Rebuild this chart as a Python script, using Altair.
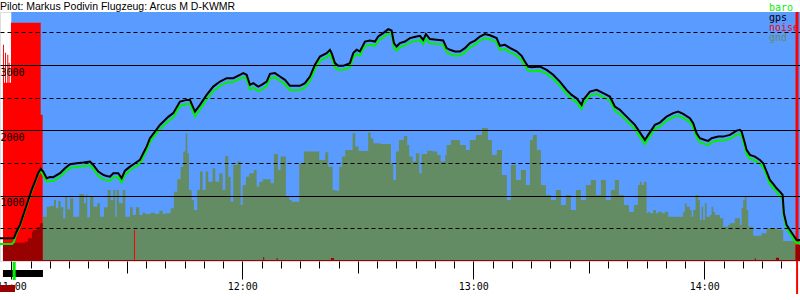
import altair as alt
import pandas as pd

# ---------------- data (time = minutes after 11:00, altitude in metres) ----------------
t_min = [
    -2.93, 0.18, 0.70, 1.22, 2.26, 3.12, 4.00, 5.30, 6.15, 7.01,
    7.64, 8.31, 9.19, 10.05, 10.91, 12.65, 13.95, 15.24, 16.98, 18.70,
    20.44, 21.30, 22.59, 23.89, 24.78, 25.63, 26.49, 27.79, 28.67, 29.53,
    30.83, 32.13, 33.42, 34.28, 35.16, 36.02, 37.32, 38.61, 40.77, 42.07,
    43.81, 45.55, 46.41, 47.71, 49.01, 50.75, 52.46, 54.20, 55.94, 57.65,
    59.39, 60.25, 61.13, 61.99, 62.85, 64.15, 65.03, 66.33, 67.19, 68.48,
    69.78, 71.08, 72.38, 74.98, 76.27, 77.57, 78.87, 80.17, 81.91, 82.77,
    83.21, 84.07, 84.92, 86.22, 87.96, 88.82, 89.70, 90.56, 91.86, 93.15,
    94.45, 95.31, 96.61, 97.91, 98.79, 99.39, 100.09, 100.95, 102.24, 103.54,
    105.28, 106.14, 107.00, 107.70, 108.74, 110.48, 112.19, 113.08, 113.93, 115.23,
    116.53, 117.83, 119.12, 120.42, 121.72, 123.02, 124.32, 126.06, 126.91, 128.21,
    129.51, 131.25, 132.55, 133.40, 134.26, 135.14, 137.30, 139.04, 140.75, 142.49,
    144.23, 145.53, 146.83, 148.13, 148.55, 150.29, 152.03, 153.74, 155.48, 156.78,
    158.08, 159.38, 160.68, 161.98, 163.27, 164.57, 165.43, 166.31, 167.17, 168.47,
    170.21, 171.92, 173.22, 174.52, 176.26, 177.12, 178.00, 178.86, 180.16, 181.02,
    181.90, 183.62, 184.91, 186.65, 188.39, 189.25, 189.69, 190.55, 190.99, 191.85,
    193.15, 194.45, 195.30, 196.19, 197.04, 197.90, 198.78, 199.64, 200.34, 200.68,
    201.38, 202.24, 203.10, 203.98, 204.86,
]
gps_alt = [
    348, 348, 352, 429, 552, 705, 858, 1088, 1215, 1349,
    1410, 1369, 1267, 1287, 1283, 1344, 1421, 1482, 1497, 1507,
    1522, 1471, 1369, 1318, 1303, 1292, 1344, 1344, 1267, 1384,
    1445, 1497, 1548, 1651, 1752, 1880, 1982, 2084, 2207, 2264,
    2441, 2467, 2467, 2288, 2391, 2544, 2671, 2748, 2800, 2800,
    2851, 2877, 2851, 2697, 2723, 2671, 2697, 2748, 2866, 2877,
    2825, 2774, 2682, 2682, 2723, 2825, 3004, 3131, 3183, 3234,
    3183, 3030, 2989, 2989, 3030, 3183, 3234, 3208, 3361, 3376,
    3361, 3438, 3490, 3551, 3530, 3336, 3284, 3336, 3361, 3413,
    3438, 3448, 3387, 3474, 3398, 3387, 3376, 3260, 3234, 3208,
    3208, 3260, 3336, 3376, 3438, 3474, 3456, 3413, 3295, 3310,
    3264, 3211, 3142, 3054, 2978, 2966, 2978, 2927, 2851, 2748,
    2621, 2544, 2494, 2391, 2467, 2595, 2621, 2570, 2518, 2365,
    2314, 2238, 2161, 2084, 1969, 1854, 1931, 2008, 2084, 2120,
    2212, 2264, 2288, 2253, 2187, 2110, 1957, 1880, 1854, 1839,
    1880, 1905, 1905, 1931, 1997, 2008, 1982, 1804, 1701, 1625,
    1598, 1548, 1497, 1369, 1241, 1180, 1114, 1062, 1012, 731,
    552, 475, 398, 322, 322,
]
baro_alt = [
    261, 261, 290, 410, 535, 690, 840, 1070, 1200, 1330,
    1380, 1310, 1215, 1225, 1225, 1290, 1365, 1425, 1440, 1450,
    1465, 1410, 1305, 1250, 1235, 1225, 1280, 1285, 1205, 1320,
    1385, 1440, 1490, 1595, 1695, 1820, 1925, 2020, 2140, 2200,
    2375, 2405, 2405, 2215, 2320, 2475, 2600, 2680, 2735, 2740,
    2790, 2815, 2790, 2630, 2655, 2600, 2625, 2680, 2800, 2815,
    2760, 2705, 2615, 2620, 2655, 2755, 2935, 3065, 3120, 3170,
    3115, 2965, 2925, 2930, 2965, 3115, 3170, 3145, 3295, 3310,
    3295, 3375, 3425, 3490, 3465, 3270, 3220, 3275, 3300, 3350,
    3375, 3385, 3320, 3405, 3335, 3325, 3310, 3195, 3170, 3145,
    3145, 3195, 3270, 3310, 3375, 3410, 3395, 3350, 3230, 3245,
    3200, 3145, 3080, 2990, 2915, 2905, 2915, 2865, 2790, 2685,
    2560, 2480, 2430, 2325, 2400, 2530, 2560, 2510, 2455, 2300,
    2250, 2175, 2100, 2020, 1905, 1790, 1870, 1945, 2020, 2060,
    2150, 2200, 2225, 2190, 2125, 2050, 1895, 1820, 1790, 1775,
    1820, 1845, 1845, 1870, 1935, 1945, 1920, 1740, 1640, 1565,
    1540, 1490, 1435, 1310, 1180, 1120, 1055, 1000, 950, 670,
    495, 415, 340, 276, 276,
]

gnd_t = [
    8.15, 9.19, 10.05, 11.09, 11.61, 12.21, 12.83, 13.50, 14.02, 14.54,
    15.24, 16.10, 17.66, 18.88, 19.40, 19.74, 20.44, 21.30, 22.33, 23.04,
    24.07, 25.03, 25.81, 26.49, 27.01, 27.37, 27.97, 28.93, 29.61, 30.83,
    31.53, 32.38, 33.24, 34.12, 34.80, 36.20, 37.32, 38.44, 39.32, 39.99,
    41.40, 42.25, 43.11, 43.99, 44.67, 45.29, 45.71, 46.15, 46.85, 47.45,
    48.30, 49.01, 49.71, 50.49, 51.16, 52.30, 52.98, 54.02, 54.90, 55.58,
    56.35, 56.98, 57.65, 58.69, 59.58, 60.09, 60.95, 61.81, 63.03, 63.73,
    64.41, 65.29, 67.37, 68.22, 69.26, 69.96, 71.34, 72.20, 72.82, 74.79,
    76.01, 79.99, 81.55, 82.32, 83.47, 84.14, 85.18, 85.88, 86.74, 88.66,
    89.34, 90.22, 92.71, 93.34, 94.01, 95.93, 98.61, 99.21, 99.91, 100.69,
    101.98, 102.84, 103.36, 104.24, 105.10, 105.96, 106.58, 108.03, 109.44, 110.63,
    111.52, 112.71, 113.08, 114.19, 116.53, 118.09, 119.12, 120.68, 122.24, 123.80,
    124.84, 126.14, 127.43, 128.73, 129.77, 131.07, 132.37, 133.67, 134.71, 135.49,
    136.52, 137.56, 138.86, 140.16, 141.46, 142.76, 144.06, 145.35, 146.65, 147.95,
    149.25, 150.55, 151.85, 153.15, 154.44, 155.74, 156.78, 157.82, 159.12, 160.42,
    161.71, 162.75, 163.27, 163.71, 164.31, 165.01, 165.43, 165.87, 166.73, 167.43,
    168.03, 168.91, 169.77, 170.62, 174.52, 174.96, 175.40, 176.26, 176.70, 177.12,
    177.74, 178.41, 178.86, 179.30, 179.71, 180.16, 180.60, 181.45, 181.90, 182.31,
    182.75, 184.05, 184.91, 186.20, 186.65, 187.94, 189.24, 189.69, 190.10, 190.54,
    190.98, 191.40, 192.70, 194.88, 196.18, 196.60, 199.19, 200.49, 204.86,
]
gnd_alt = [
    679, 832, 843, 935, 807, 920, 823, 654, 996, 792,
    961, 679, 1027, 884, 1027, 669, 986, 832, 884, 679,
    823, 1088, 935, 1088, 679, 1088, 884, 1088, 679, 823,
    705, 823, 705, 740, 720, 740, 720, 771, 720, 731,
    807, 1062, 1252, 1445, 1675, 1957, 1651, 1088, 935, 782,
    1088, 1369, 1088, 1369, 1215, 1421, 1215, 1344, 1088, 1609,
    1292, 909, 1471, 1522, 858, 1165, 1292, 1344, 1395, 1139,
    1215, 1252, 1191, 1640, 1395, 1599, 986, 935, 909, 1497,
    1675, 1548, 1666, 1445, 1088, 1077, 1445, 1599, 1701, 1957,
    1752, 1686, 1966, 1880, 1804, 1793, 1497, 1241, 1675, 1854,
    1916, 1778, 1599, 1522, 1651, 1344, 1640, 1690, 1675, 1625,
    1522, 1625, 1778, 1854, 1778, 1701, 1854, 1931, 2038, 1854,
    1625, 1701, 1318, 935, 1471, 1241, 1395, 1165, 1854, 1931,
    1701, 1165, 1012, 935, 1088, 858, 1012, 782, 1088, 935,
    1165, 1241, 1012, 1241, 935, 1088, 1241, 1012, 858, 751,
    858, 1165, 1215, 1165, 1215, 736, 756, 731, 782, 731,
    756, 731, 756, 679, 756, 884, 832, 782, 679, 782,
    1012, 935, 628, 832, 628, 884, 679, 705, 832, 756,
    705, 654, 526, 552, 578, 654, 552, 807, 935, 976,
    782, 526, 388, 424, 486, 501, 475, 307, 307,
]

noise_t = [-2.16, -1.90, -1.64, -1.38, -1.04, -0.78, -0.68, -0.42, -0.08, 7.64,
           8.15, 31.87, 32.13, 203.70, 204.48, 204.86]
noise_val = [3310, 2728, 3188, 2728, 3157, 2728, 3035, 2728, 3648, 2238,
             0, 475, 0, 3813, 0, 0]

noise_low_t = [-2.16, 3.56, 4.34, 5.38, 5.64, 6.67, 7.45, 8.15, 65.44, 65.70,
               68.92, 69.18, 83.03, 83.80, 193.10, 193.40, 198.60, 199.40, 203.70, 204.86]
noise_low_val = [280, 295, 350, 449, 475, 521, 582, 15, 60, 15,
                 45, 15, 45, 15, 40, 15, 50, 15, 245, 245]

launch_t, launch_end_t = -2.16, 8.23
release_t = 0.75
sky_start_t = 0.0
cursor_t = 204.1

legend_labels = ["baro", "gps", "noise", "gnd"]
legend_colors = ["#00F000", "#000000", "#FF0000", "#648C64"]

title_text = "Pilot: Markus Podivin Flugzeug: Arcus M D-KWMR"

T_START, T_END = -2.93, 204.86
ALT_MAX = 3813
W, H = 800, 249

SKY = "#5A9BFF"
GND = "#648C64"
BARO = "#00F000"
NOISE = "#FF0000"
NOISE_LOW = "#990000"

# ---------------- scales & axes ----------------
xs = alt.Scale(domain=[T_START, T_END], nice=False, zero=False)
ys = alt.Scale(domain=[0, ALT_MAX], nice=False, zero=False)

x_axis = alt.Axis(
    values=list(range(0, 205, 5)), grid=False, domain=False,
    tickColor="black", tickWidth=1,
    tickSize={"condition": [{"test": "datum.value % 60 === 0", "value": 18},
                            {"test": "datum.value % 30 === 0", "value": 12}],
              "value": 7},
    labelExpr="datum.value % 60 === 0 ? (11 + datum.value / 60) + ':00' : ''",
    labelFont="DejaVu Sans Mono", labelFontSize=10, labelColor="black",
    labelPadding=2, labelFlush=False, labelOverlap=False, title=None,
)
y_axis = alt.Axis(
    values=[500, 1000, 1500, 2000, 2500, 3000, 3500], format="d",
    grid=True, gridColor="black", gridWidth=1, gridOpacity=1,
    gridDash={"condition": {"test": "datum.value % 1000 === 0", "value": []}, "value": [4, 3]},
    ticks=False, tickSize=0, domain=False,
    labelExpr="datum.value % 1000 === 0 ? datum.label : ''",
    labelAlign="left", labelBaseline="top", labelPadding=0, labelOffset=2,
    labelFont="DejaVu Sans Mono", labelFontSize=10, labelColor="black",
    title=None, zindex=1,
)

x_enc = alt.X("t:Q", scale=xs, axis=x_axis)
y_enc = alt.Y("v:Q", scale=ys, axis=y_axis)

# ---------------- layers ----------------
sky = alt.Chart(pd.DataFrame({"t": [sky_start_t], "t2": [T_END]})).mark_rect(color=SKY).encode(
    x=x_enc, x2="t2:Q", y=alt.value(0), y2=alt.value(H))

gnd = alt.Chart(pd.DataFrame({"t": gnd_t, "v": gnd_alt})).mark_area(
    color=GND, interpolate="step-after", clip=True).encode(x=x_enc, y=y_enc)

noise = alt.Chart(pd.DataFrame({"t": noise_t, "v": noise_val})).mark_area(
    color=NOISE, interpolate="step-after", clip=True).encode(x=x_enc, y=y_enc)

noise_low = alt.Chart(pd.DataFrame({"t": noise_low_t, "v": noise_low_val})).mark_area(
    color=NOISE_LOW, interpolate="step-after", clip=True).encode(x=x_enc, y=y_enc)

baro = alt.Chart(pd.DataFrame({"t": t_min, "v": baro_alt})).mark_line(
    color=BARO, strokeWidth=2, clip=True).encode(x=x_enc, y=y_enc)

gps = alt.Chart(pd.DataFrame({"t": t_min, "v": gps_alt})).mark_line(
    color="black", strokeWidth=2, clip=True).encode(x=x_enc, y=y_enc)

launch_bar = alt.Chart(pd.DataFrame({"t": [launch_t], "t2": [launch_end_t]})).mark_rect(
    color="black").encode(x=x_enc, x2="t2:Q", y=alt.value(H + 9), y2=alt.value(H + 16))

release_mark = alt.Chart(pd.DataFrame({"t": [release_t]})).mark_rule(
    color=BARO, strokeWidth=3).encode(x=x_enc, y=alt.value(H + 1), y2=alt.value(H + 19))

start_block = alt.Chart(pd.DataFrame({"t": [T_START], "t2": [0.96]})).mark_rect(
    color=NOISE_LOW).encode(x=x_enc, x2="t2:Q", y=alt.value(H + 24), y2=alt.value(H + 31))

cursor = alt.Chart(pd.DataFrame({"t": [cursor_t]})).mark_rule(
    color=NOISE, strokeWidth=2).encode(x=x_enc, y=alt.value(H), y2=alt.value(H + 33))

legend_layers = []
for i, (lab, col) in enumerate(zip(legend_labels, legend_colors)):
    legend_layers.append(
        alt.Chart(pd.DataFrame({"label": [lab]})).mark_text(
            color=col, font="DejaVu Sans Mono", fontSize=10, align="left", baseline="middle"
        ).encode(text="label:N", x=alt.value(769), y=alt.value(-4 + 10 * i))
    )

title_layer = alt.Chart(pd.DataFrame({"label": [title_text]})).mark_text(
    color="black", font="Liberation Sans", fontSize=10.5, align="left", baseline="alphabetic"
).encode(text="label:N", x=alt.value(0), y=alt.value(-2.5))

chart = alt.layer(
    sky, gnd, noise, noise_low, baro, gps,
    launch_bar, release_mark, start_block, cursor, title_layer, *legend_layers
).properties(
    width=W, height=H,
    autosize="none",
    padding={"left": 0, "top": 12, "right": 0, "bottom": 39},
).configure_view(stroke=None).configure(background="white")

chart.save("out.html", embed_options={"renderer": "svg", "actions": False})
